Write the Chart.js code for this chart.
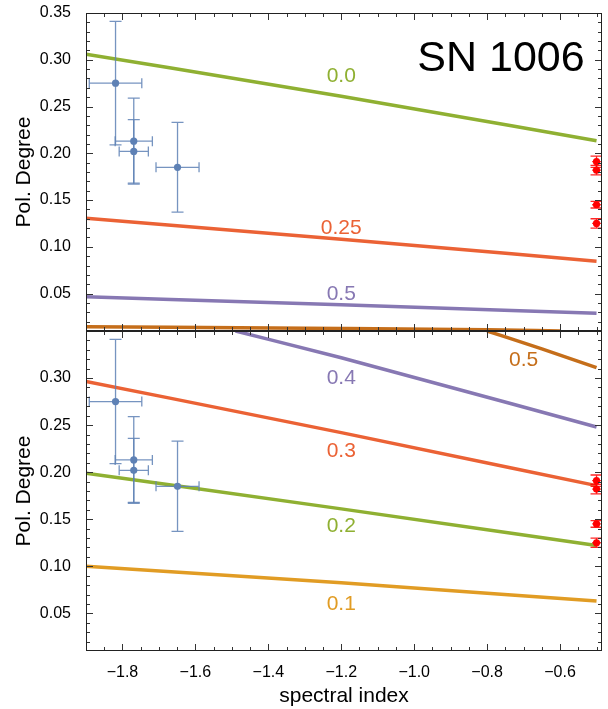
<!DOCTYPE html>
<html>
<head>
<meta charset="utf-8">
<script src="https://cdn.jsdelivr.net/npm/chart.js@4.4.1/dist/chart.umd.min.js"></script>
<style>
  html, body { margin: 0; padding: 0; background: #fff; }
  #wrap { position: relative; width: 608px; height: 709px; }
  #wrap canvas { position: absolute; left: 0; top: 0; }
</style>
</head>
<body>
<div id="wrap">
  <canvas id="panelTop" width="608" height="709"></canvas>
  <canvas id="panelBottom" width="608" height="709"></canvas>
</div>
<script>
// axes
const xMin = -1.9, xMax = -0.485;
const yMin = 0.01, yMax = 0.35;
const xTickValues = [-1.8, -1.6, -1.4, -1.2, -1.0, -0.8, -0.6];
const yTickValuesTop = [0.05, 0.10, 0.15, 0.20, 0.25, 0.30, 0.35];
const yTickValuesBottom = [0.05, 0.10, 0.15, 0.20, 0.25, 0.30];

// radio measurements (blue) with errors
const blueX    = [-1.819, -1.769, -1.769, -1.649];
const blueXErr = [0.072, 0.051, 0.040, 0.059];
const blueY    = [0.275, 0.213, 0.202, 0.185];
const blueYErr = [0.066, 0.046, 0.034, 0.048];

// x-ray measurements (red) at the right edge
const redX    = [-0.5, -0.5, -0.5, -0.5];
const redXErr = [0.012, 0.012, 0.012, 0.012];
const redY    = [0.191, 0.182, 0.145, 0.125];
const redYErr = [0.006, 0.005, 0.0035, 0.005];

// model curves, upper panel
const curveX       = [-1.9, -1.2, -0.5];
const topCurve00   = [0.306, 0.261, 0.2135];
const topCurve025  = [0.1305, 0.108, 0.0847];
const topCurve05   = [0.0465, 0.038, 0.029];
const topEdgeX     = [-1.9, -1.2, -0.8, -0.6];
const topEdge      = [0.0145, 0.0128, 0.0113, 0.0100];

// model curves, lower panel
const botCurve01   = [0.100, 0.0826, 0.0630];
const botCurve02   = [0.199, 0.161, 0.122];
const botCurve03   = [0.2965, 0.242, 0.1857];
const botCurve04X  = [-1.49, -1.2, -0.5];
const botCurve04   = [0.35, 0.3216, 0.248];
const botCurve05X  = [-0.8, -0.65, -0.5];
const botCurve05   = [0.35, 0.331, 0.311];

const C = {
  blue: '#5E81B5', orange: '#E19C24', green: '#8FB032',
  red: '#EB6235', purple: '#8778B3', brown: '#C56E1A', point: '#FF0000'
};
const FONT = '"Liberation Sans", Arial, sans-serif';

const pts = (xs, ys) => xs.map((x, i) => ({ x, y: ys[i] }));

function curve(xs, ys, color) {
  return {
    data: pts(xs, ys), showLine: true, borderColor: color, borderWidth: 3.5,
    pointRadius: 0, cubicInterpolationMode: 'monotone', clip: 0, fill: false
  };
}

function pointsSet(xs, ys, xErr, yErr, color, errColor, capV, capH) {
  return {
    data: pts(xs, ys), showLine: false, pointRadius: 3.6, pointBorderWidth: 0,
    backgroundColor: color, borderColor: color, xErr, yErr, errColor, capV, capH
  };
}

// error bars with caps, drawn right before their points
const errorBars = {
  id: 'errorBars',
  beforeDatasetDraw(chart, args) {
    const ds = chart.data.datasets[args.index];
    if (!ds.xErr) return;
    const { ctx, chartArea: a, scales: { x, y } } = chart;
    ctx.save();
    ctx.beginPath();
    ctx.rect(a.left, a.top, a.right - a.left, a.bottom - a.top);
    ctx.clip();
    ctx.strokeStyle = ds.errColor;
    ctx.lineWidth = 1.3;
    ds.data.forEach((p, i) => {
      const px = x.getPixelForValue(p.x), py = y.getPixelForValue(p.y);
      const x0 = x.getPixelForValue(p.x - ds.xErr[i]), x1 = x.getPixelForValue(p.x + ds.xErr[i]);
      const y0 = y.getPixelForValue(p.y - ds.yErr[i]), y1 = y.getPixelForValue(p.y + ds.yErr[i]);
      ctx.beginPath();
      ctx.moveTo(px, y0); ctx.lineTo(px, y1);
      ctx.moveTo(px - ds.capV, y0); ctx.lineTo(px + ds.capV, y0);
      ctx.moveTo(px - ds.capV, y1); ctx.lineTo(px + ds.capV, y1);
      ctx.moveTo(x0, py); ctx.lineTo(x1, py);
      if (ds.capH) {
        ctx.moveTo(x0, py - ds.capH); ctx.lineTo(x0, py + ds.capH);
        ctx.moveTo(x1, py - ds.capH); ctx.lineTo(x1, py + ds.capH);
      }
      ctx.stroke();
    });
    ctx.restore();
  }
};

// minor tick positions
const minorXTicks = [];
for (let k = -37; k <= -10; k++) if (k % 4) minorXTicks.push(k / 20);
const minorYTicks = [];
for (let k = 2; k < 35; k++) if (k % 5) minorYTicks.push(k / 100);
const majorYTicks = [0.05, 0.10, 0.15, 0.20, 0.25, 0.30];

// closed frame with inward ticks on all four sides
const frameTicks = {
  id: 'frameTicks',
  afterDraw(chart) {
    const ctx = chart.ctx;
    const a = chart.chartArea;
    const xs = chart.scales.x, ys = chart.scales.y;
    const L = Math.round(a.left), R = Math.round(a.right) - 1;
    const T = Math.round(a.top), B = Math.round(a.bottom) - 1;
    ctx.save();
    ctx.fillStyle = '#333';
    const markX = (vals, len) => vals.forEach(v => {
      const px = Math.round(xs.getPixelForValue(v));
      ctx.fillRect(px, B - len + 1, 1, len);
      ctx.fillRect(px, T, 1, len);
    });
    const markY = (vals, len) => vals.forEach(v => {
      const py = Math.round(ys.getPixelForValue(v));
      ctx.fillRect(L, py, len, 1);
      ctx.fillRect(R - len + 1, py, len, 1);
    });
    markX(minorXTicks, 4);
    markY(minorYTicks, 4);
    markX(xTickValues, 7);
    markY(majorYTicks, 7);
    ctx.fillStyle = '#222';
    ctx.fillRect(L, T, R - L + 1, 1);
    ctx.fillRect(L, B, R - L + 1, 1);
    ctx.fillRect(L, T, 1, B - T + 1);
    ctx.fillRect(R, T, 1, B - T + 1);
    ctx.restore();
  }
};

// curve annotations and the panel caption
const curveLabels = {
  id: 'curveLabels',
  afterDatasetsDraw(chart, args, opts) {
    const { ctx, scales: { x, y } } = chart;
    ctx.save();
    ctx.textAlign = 'center';
    ctx.textBaseline = 'middle';
    (opts.items || []).forEach(it => {
      ctx.font = (it.size || 21) + 'px ' + FONT;
      ctx.fillStyle = it.color;
      ctx.fillText(it.text, x.getPixelForValue(it.x), y.getPixelForValue(it.y));
    });
    ctx.restore();
  }
};

const fmtX = v => (v < 0 ? '\u2212' : '') + Math.abs(v).toFixed(1);

function makePanel(id, datasets, yTicks, isBottom, labels) {
  return new Chart(document.getElementById(id), {
    type: 'scatter',
    data: { datasets },
    plugins: [errorBars, curveLabels, frameTicks],
    options: {
      responsive: false,
      animation: false,
      events: [],
      layout: { padding: isBottom ? { top: 331, bottom: 0, left: 0, right: 6 }
                                  : { top: 13, bottom: 378, left: 0, right: 6 } },
      plugins: {
        legend: { display: false },
        tooltip: { enabled: false },
        curveLabels: { items: labels }
      },
      scales: {
        x: {
          type: 'linear', min: xMin, max: xMax,
          afterBuildTicks: s => { s.ticks = xTickValues.map(v => ({ value: v })); },
          afterFit: s => { s.height = isBottom ? 58 : 0; s.paddingLeft = 0; s.paddingRight = 0; },
          grid: { display: false }, border: { display: false },
          ticks: { display: isBottom, color: '#000', padding: 4, maxRotation: 0, autoSkip: false,
                   font: { family: FONT, size: 16 }, callback: v => fmtX(v) },
          title: { display: isBottom, text: 'spectral index', color: '#000',
                   font: { family: FONT, size: 21 }, padding: { top: 0, bottom: 0 } }
        },
        y: {
          type: 'linear', min: yMin, max: yMax,
          afterBuildTicks: s => { s.ticks = yTicks.map(v => ({ value: v })); },
          afterFit: s => { s.width = 86; s.paddingTop = 0; s.paddingBottom = 0; },
          grid: { display: false }, border: { display: false },
          ticks: { color: '#000', padding: 7, autoSkip: false,
                   font: { family: FONT, size: 16 }, callback: v => v.toFixed(2) },
          title: { display: true, text: 'Pol. Degree', color: '#000',
                   font: { family: FONT, size: 21 }, padding: { top: 12, bottom: 0 } }
        }
      }
    }
  });
}

const bluePoints = () => pointsSet(blueX, blueY, blueXErr, blueYErr, C.blue, 'rgba(94,129,181,0.85)', 6, 5);
const redPoints  = () => pointsSet(redX, redY, redXErr, redYErr, C.point, 'rgba(255,0,0,0.85)', 6, 0);

makePanel('panelTop', [
  bluePoints(), redPoints(),
  curve(curveX, topCurve00, C.green),
  curve(curveX, topCurve025, C.red),
  curve(curveX, topCurve05, C.purple),
  curve(topEdgeX, topEdge, C.brown)
], yTickValuesTop, false, [
  { text: '0.0',  x: -1.2, y: 0.282, color: C.green },
  { text: '0.25', x: -1.2, y: 0.120, color: C.red },
  { text: '0.5',  x: -1.2, y: 0.0495, color: C.purple },
  { text: 'SN 1006', x: -0.762, y: 0.3005, color: '#000', size: 43 }
]);

makePanel('panelBottom', [
  bluePoints(), redPoints(),
  curve(curveX, botCurve01, C.orange),
  curve(curveX, botCurve02, C.green),
  curve(curveX, botCurve03, C.red),
  curve(botCurve04X, botCurve04, C.purple),
  curve(botCurve05X, botCurve05, C.brown)
], yTickValuesBottom, true, [
  { text: '0.5', x: -0.70, y: 0.319, color: C.brown },
  { text: '0.4', x: -1.2, y: 0.300, color: C.purple },
  { text: '0.3', x: -1.2, y: 0.222, color: C.red },
  { text: '0.2', x: -1.2, y: 0.143, color: C.green },
  { text: '0.1', x: -1.2, y: 0.060, color: C.orange }
]);
</script>
</body>
</html>
